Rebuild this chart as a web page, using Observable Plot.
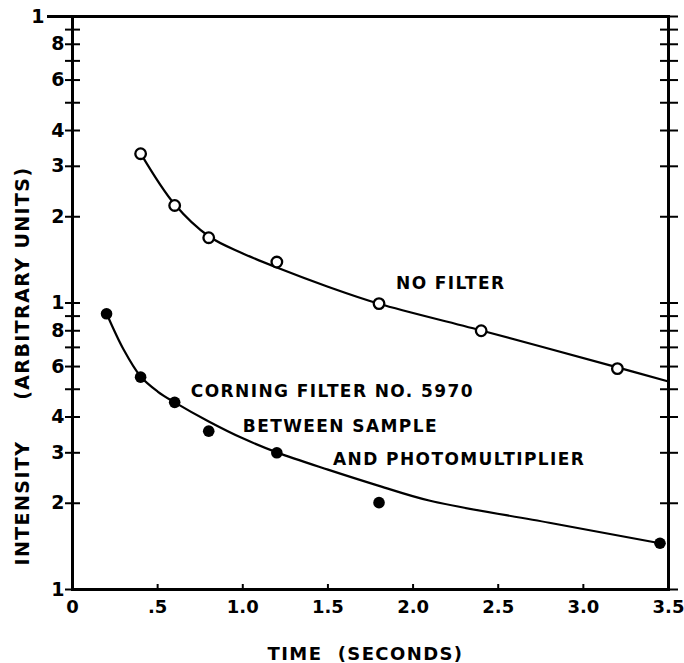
<!DOCTYPE html>
<html><head><meta charset="utf-8">
<script src="https://cdn.jsdelivr.net/npm/d3@7"></script>
<script src="https://cdn.jsdelivr.net/npm/@observablehq/plot@0.6"></script>
<style>body{margin:0;background:#fff;}</style>
</head><body><div id="chart"></div>
<script>
// Measured points
const timeNoFilter = [0.4, 0.6, 0.8, 1.2, 1.8, 2.4, 3.2];
const intensityNoFilter = [33.2, 21.9, 16.9, 13.9, 9.95, 8.0, 5.9];
const timeFilter = [0.2, 0.4, 0.6, 0.8, 1.2, 1.8, 3.45];
const intensityFilter = [9.17, 5.51, 4.5, 3.57, 3.0, 2.01, 1.45];
// Hand-drawn smooth curves
const curveNoFilterT = [0.4, 0.6, 0.8, 1.0, 1.2, 1.5, 1.8, 2.4, 3.2, 3.5];
const curveNoFilterI = [33.3, 22.1, 17.1, 14.9, 13.3, 11.4, 9.94, 8.02, 5.96, 5.32];
const curveFilterT = [0.2, 0.3, 0.4, 0.5, 0.6, 0.8, 1.0, 1.2, 1.5, 1.8, 2.1, 2.8, 3.45];
const curveFilterI = [9.19, 6.88, 5.54, 4.91, 4.5, 3.86, 3.37, 3.01, 2.62, 2.3, 2.04, 1.71, 1.45];
// Ticks
const xTicks = [0, 0.5, 1, 1.5, 2, 2.5, 3, 3.5];
const xTickLabels = ["0", ".5", "1.0", "1.5", "2.0", "2.5", "3.0", "3.5"];
const yLabeledTicks = [1, 2, 3, 4, 6, 8, 10, 20, 30, 40, 60, 80];
const yTickLabels = ["1", "2", "3", "4", "6", "8", "1", "2", "3", "4", "6", "8"];
const yTopTick = [100];
const yTopLabel = ["1"];
const yAllTicks = [1,2,3,4,5,6,7,8,9,10,20,30,40,50,60,70,80,90,100];
// Texts
const annText = ["NO FILTER", "CORNING FILTER NO. 5970", "BETWEEN SAMPLE", "AND PHOTOMULTIPLIER"];
const annT = [1.9, 0.695, 1.0, 1.53];
const annI = [11.7, 4.91, 3.71, 2.84];
const xTitle = "TIME\u00a0\u00a0(SECONDS)";
const yTitle = "INTENSITY\u2003\u2003(ARBITRARY UNITS)";

const noFilter = timeNoFilter.map((t, i) => ({t, v: intensityNoFilter[i]}));
const filter = timeFilter.map((t, i) => ({t, v: intensityFilter[i]}));
const curveNo = curveNoFilterT.map((t, i) => ({t, v: curveNoFilterI[i]}));
const curveF = curveFilterT.map((t, i) => ({t, v: curveFilterI[i]}));
const ann = annText.map((s, i) => ({s, t: annT[i], v: annI[i]}));
const yLab = yLabeledTicks.map((v, i) => ({v, s: yTickLabels[i]}));
const yTop = yTopTick.map((v, i) => ({v, s: yTopLabel[i]}));

const chart = Plot.plot({
  width: 684, height: 663,
  marginLeft: 72, marginRight: 16, marginTop: 16, marginBottom: 74,
  style: {fontFamily: "DejaVu Sans", fontWeight: "bold", background: "white", color: "black", overflow: "visible"},
  x: {domain: [0, 3.5], axis: null},
  y: {type: "log", domain: [1, 100], axis: null},
  marks: [
    Plot.axisX({ticks: xTicks, anchor: "bottom", tickSize: 5, dy: -5, text: null, label: null, strokeWidth: 2}),
    Plot.axisX({ticks: xTicks, anchor: "bottom", tickSize: 0, tickPadding: 11, label: null, fontSize: 18,
      tickFormat: d => xTickLabels[xTicks.indexOf(d)]}),
    Plot.axisY({ticks: yAllTicks, anchor: "left", tickSize: 15, dx: 8, text: null, label: null, strokeWidth: 2}),
    Plot.axisY({ticks: yTopTick, anchor: "left", tickSize: 25, text: null, label: null, strokeWidth: 3}),
    Plot.text(yLab, {y: "v", text: "s", frameAnchor: "left", textAnchor: "end", dx: -8, fontSize: 19}),
    Plot.text(yTop, {y: "v", text: "s", frameAnchor: "left", textAnchor: "end", dx: -28, fontSize: 19}),
    Plot.axisY({ticks: yAllTicks, anchor: "right", tickSize: 18, dx: -9, text: null, label: null, strokeWidth: 2}),
    Plot.frame({strokeWidth: 3}),
    Plot.line(curveNo, {x: "t", y: "v", curve: "catmull-rom", strokeWidth: 2.2}),
    Plot.line(curveF, {x: "t", y: "v", curve: "catmull-rom", strokeWidth: 2.2}),
    Plot.dot(noFilter, {x: "t", y: "v", r: 5.3, stroke: "black", fill: "white", strokeWidth: 2.3}),
    Plot.dot(filter, {x: "t", y: "v", r: 5.8, fill: "black"}),
    Plot.text(ann, {x: "t", y: "v", text: "s", textAnchor: "start", fontSize: 17}),
    Plot.text([xTitle], {text: d => d, frameAnchor: "bottom", textAnchor: "middle", lineAnchor: "middle", dy: 65, dx: -5, fontSize: 18}),
    Plot.text([yTitle], {text: d => d, frameAnchor: "left", textAnchor: "middle", lineAnchor: "middle", rotate: -90, dx: -50, dy: 63, fontSize: 19})
  ]
});
d3.select(chart).selectAll("text").filter(function() { return this.textContent.length > 3; }).style("letter-spacing", "1.4px");
document.getElementById("chart").appendChild(chart);
</script>
</body></html>
